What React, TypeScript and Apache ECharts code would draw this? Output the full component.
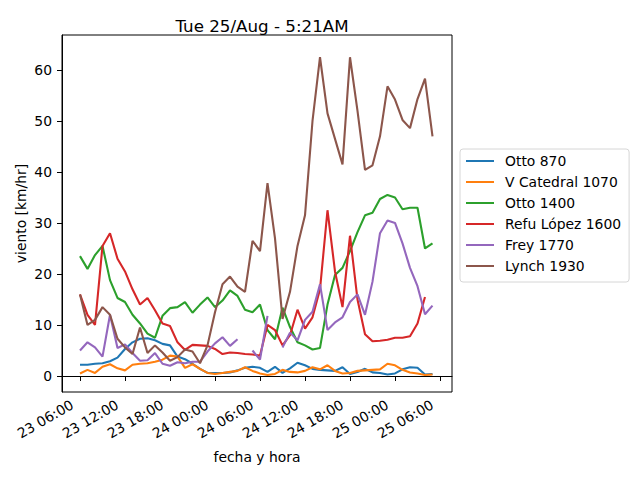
import React, { useEffect, useRef } from "react";
import * as echarts from "echarts";

// horas desde 23/Aug 00:00
const hours = [
  6, 7, 8, 9, 10, 11, 12, 13, 14, 15, 16, 17, 18, 19, 20, 21, 22, 23, 24, 25, 26, 27, 28, 29,
  30, 31, 32, 33, 34, 35, 36, 37, 38, 39, 40, 41, 42, 43, 44, 45, 46, 47, 48, 49, 50, 51, 52, 53,
];

const names = ["Otto 870", "V Catedral 1070", "Otto 1400", "Refu López 1600", "Frey 1770", "Lynch 1930"];
const colors = ["#1f77b4", "#ff7f0e", "#2ca02c", "#d62728", "#9467bd", "#8c564b"];

const otto870 = [
  2.2, 2.2, 2.4, 2.5, 2.9, 3.6, 5.3, 6.6, 7.3, 7.4, 7.0, 6.3, 6.0, 3.8, 3.3, 2.4, 1.4, 0.6, 0.6, 0.6, 0.7, 1.1, 1.6, 1.8,
  1.6, 0.8, 1.8, 0.6, 1.5, 2.6, 2.1, 1.4, 1.2, 1.1, 1.0, 1.7, 0.4, 0.8, 1.4, 0.7, 0.6, 0.3, 0.5, 1.3, 1.7, 1.6, 0.3, 0.4,
];
const vCatedral = [
  0.5, 1.2, 0.6, 1.8, 2.3, 1.5, 1.1, 2.2, 2.4, 2.5, 2.8, 3.2, 4.0, 3.8, 1.6, 2.3, 1.4, 0.6, 0.4, 0.6, 0.8, 1.0, 1.7, 1.0,
  0.5, 0.2, 0.4, 1.2, 0.8, 0.7, 1.0, 1.7, 1.3, 2.1, 1.0, 0.5, 0.6, 1.0, 1.1, 1.2, 1.3, 2.4, 2.1, 1.2, 0.7, 0.5, 0.2, 0.3,
];
const otto1400 = [
  23.5, 21, 23.7, 25.5, 18.8, 15.3, 14.5, 12, 10.3, 8.3, 7.5, 11.8, 13.3, 13.5, 14.5, 12.4, 14, 15.4, 13.5, 14.8, 16.8, 15.7, 13, 12.5,
  14, 9, 7.2, 13.4, 9.6, 6.6, 6, 5.2, 5.5, 14, 19.8, 21.2, 24.5, 28.2, 31.5, 32, 34.7, 35.5, 35, 32.7, 33, 33, 25, 26,
];
const refuLopez = [
  16, 12, 10, 25.5, 28, 23, 20.5, 17, 14, 15.3, 12.9, 10.3, 9.8, 6.6, 5.1, 6.1, 6, 5.9, 5.3, 4.3, 4.6, 4.5, 4.3, 4.2,
  4, 10, 9, 6, 8, 13, 9.3, 11.5, 17, 32.5, 20.5, 13.5, 27.5, 15, 8.2, 6.8, 6.9, 7.1, 7.5, 7.5, 7.8, 10.3, 15.5, null,
];
const frey = [
  5, 6.6, 5.6, 3.8, 12, 5.5, 6.2, 4.5, 3, 3.1, 4.5, 2.4, 2, 2.7, 2.5, 2.8, 2.8, 4.8, 6.4, 7.6, 5.9, 7.2, null, 5,
  3.2, 11.8, null, 5.6, 8.5, 7, 11, 12.6, 18, 9, 10.5, 11.5, 14.5, 16, 12, 18.5, 28, 30.5, 30, 26, 21.2, 17.6, 12.1, 13.8,
];
const lynch = [
  16, 10, 11, 13.5, 12, 7.3, 5.6, 4.3, 9.5, 4.5, 6, 4.6, 3, 3.7, 5.2, 4.8, 2.5, 6, 12.5, 18, 19.5, 17.5, 16.5, 26.5,
  24.5, 37.8, 27, 11.2, 16.5, 25.5, 31.5, 50, 62.5, 51.5, 46.5, 41.5, 62.5, 52, 40.4, 41.3, 47, 56.8, 54.2, 50.2, 48.6, 54.3, 58.3, 47,
];

const seriesValues = [otto870, vCatedral, otto1400, refuLopez, frey, lynch];

const xTicks = [6, 12, 18, 24, 30, 36, 42, 48, 54];
const xTickLabels = ["23 06:00", "23 12:00", "23 18:00", "24 00:00", "24 06:00", "24 12:00", "24 18:00", "25 00:00", "25 06:00"];
const yTicks = [0, 10, 20, 30, 40, 50, 60];

const font = "DejaVu Sans";

const App: React.FC = () => {
  const chartRef = useRef<HTMLDivElement>(null);

  useEffect(() => {
    const chart = echarts.init(chartRef.current!, null, { renderer: "svg" });

    chart.setOption({
      animation: false,
      backgroundColor: "#ffffff",
      textStyle: { fontFamily: font, color: "#000" },
      title: {
        text: "Tue 25/Aug - 5:21AM",
        left: 257,
        textAlign: "center",
        top: 12,
        textStyle: { fontFamily: font, fontSize: 16.7, fontWeight: "normal", color: "#000" },
      },
      legend: {
        orient: "vertical",
        left: 460,
        top: 149,
        padding: [5, 8, 9, 6],
        itemGap: 7,
        itemWidth: 28,
        itemHeight: 2,
        icon: "rect",
        borderColor: "#d6d6d6",
        borderWidth: 1,
        borderRadius: 3,
        backgroundColor: "rgba(255,255,255,0.8)",
        textStyle: { fontFamily: font, fontSize: 13.9, color: "#000", lineHeight: 14, padding: [0, 0, 0, 6] },
        data: names,
      },
      grid: {
        left: 62,
        right: 188,
        top: 35,
        bottom: 88,
        show: true,
        borderColor: "#000",
        borderWidth: 1,
        backgroundColor: "transparent",
      },
      xAxis: {
        type: "value",
        min: 3.6,
        max: 55.6,
        name: "fecha y hora",
        nameLocation: "middle",
        nameGap: 58,
        nameMoveOverlap: false,
        nameTextStyle: { fontFamily: font, fontSize: 13.9, color: "#000" },
        axisLine: { show: true, lineStyle: { color: "#000", width: 1 } },
        axisTick: { show: true, length: 5, lineStyle: { color: "#000" }, customValues: xTicks },
        axisLabel: {
          rotate: 30,
          margin: 15,
          padding: [0, 5, 0, 0],
          align: "right",
          verticalAlign: "bottom",
          fontFamily: font,
          fontSize: 13.9,
          color: "#000",
          customValues: xTicks,
          formatter: (v: number) => xTickLabels[xTicks.indexOf(Math.round(v))] ?? "",
        },
        splitLine: { show: false },
      },
      yAxis: {
        type: "value",
        min: -3.14,
        max: 66.86,
        name: "viento [km/hr]",
        nameLocation: "middle",
        nameGap: 34,
        nameMoveOverlap: false,
        nameTextStyle: { fontFamily: font, fontSize: 13.9, color: "#000" },
        axisLine: { show: true, lineStyle: { color: "#000", width: 1 } },
        axisTick: { show: true, length: 5, lineStyle: { color: "#000" }, customValues: yTicks },
        axisLabel: {
          margin: 10,
          fontFamily: font,
          fontSize: 13.9,
          color: "#000",
          customValues: yTicks,
          formatter: (v: number) => String(Math.round(v)),
        },
        splitLine: { show: false },
      },
      series: names.map((name, i) => ({
        name,
        type: "line",
        data: hours.map((h, j) => [h, seriesValues[i][j]]),
        showSymbol: false,
        connectNulls: false,
        color: colors[i],
        lineStyle: { color: colors[i], width: 2.1 },
      })),
    });

    return () => {
      chart.dispose();
    };
  }, []);

  return <div ref={chartRef} style={{ width: 640, height: 480, margin: -8 }} />;
};

export default App;
